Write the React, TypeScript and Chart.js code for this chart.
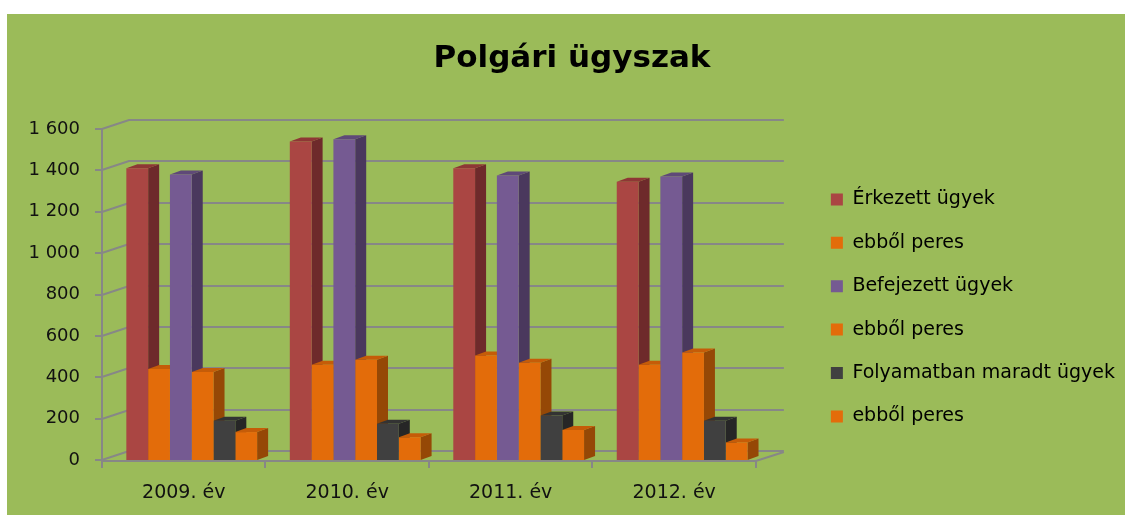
import React, { useEffect, useRef } from "react";
import { Chart, registerables } from "chart.js";

Chart.register(...registerables);

const chartTitle = "Polgári ügyszak";
const categories = ["2009. év", "2010. év", "2011. év", "2012. év"];
const seriesNames = [
  "Érkezett ügyek",
  "ebből peres",
  "Befejezett ügyek",
  "ebből peres",
  "Folyamatban maradt ügyek",
  "ebből peres",
];
const erkezett = [1410, 1540, 1410, 1345];
const erkezettPeres = [440, 460, 505, 460];
const befejezett = [1380, 1550, 1375, 1370];
const befejezettPeres = [425, 485, 470, 520];
const folyamatban = [190, 175, 215, 190];
const folyamatbanPeres = [135, 110, 145, 85];
const yTickValues = [0, 200, 400, 600, 800, 1000, 1200, 1400, 1600];

const frontColors = ["#AA4643", "#E36C0A", "#755A92", "#E36C0A", "#404040", "#E36C0A"];
const sideColors = ["#6E2A2B", "#954806", "#4A385D", "#954806", "#262626", "#954806"];
const capColors = ["#8E3735", "#C55C08", "#5F4978", "#C55C08", "#333333", "#C55C08"];

const DEPTH_X = 11;
const DEPTH_Y = 4;
const WALL_X = 27;
const WALL_Y = 9;
const BAR_SHIFT = 8;
const GRID = "#878787";

const threeD = {
  id: "threeD",
  beforeDraw(chart: any) {
    const { ctx, width, height } = chart;
    ctx.save();
    ctx.fillStyle = "#9BBB59";
    ctx.fillRect(0, 0, width, height);
    ctx.restore();
  },
  beforeDatasetsDraw(chart: any) {
    const { ctx, chartArea, scales } = chart;
    const y = scales.y;
    const x = scales.x;
    const L = chartArea.left;
    const R = chartArea.right;
    const B = chartArea.bottom;
    ctx.save();
    ctx.strokeStyle = GRID;
    ctx.lineWidth = 2;
    ctx.beginPath();
    yTickValues.forEach((v) => {
      const py = Math.round(y.getPixelForValue(v));
      ctx.moveTo(L - 7, py);
      ctx.lineTo(L, py);
      ctx.lineTo(L + WALL_X, py - WALL_Y);
      ctx.lineTo(R + WALL_X + 1, py - WALL_Y);
    });
    ctx.moveTo(L, Math.round(y.getPixelForValue(1600)));
    ctx.lineTo(L, B + 1);
    ctx.moveTo(L, B + 1);
    ctx.lineTo(R, B + 1);
    ctx.lineTo(R + WALL_X + 1, B + 1 - WALL_Y);
    const n = categories.length;
    const step = (x.right - x.left) / n;
    for (let i = 0; i <= n; i++) {
      const px = Math.round(x.left + i * step);
      ctx.moveTo(px, B + 1);
      ctx.lineTo(px, B + 8);
    }
    ctx.stroke();
    ctx.restore();

    ctx.save();
    ctx.translate(BAR_SHIFT, 0);
    // depth faces (sides and tops) of every bar, left to right; the front faces are drawn by Chart.js afterwards
    const nData = categories.length;
    const nSets = chart.data.datasets.length;
    for (let c = 0; c < nData; c++) {
      for (let i = 0; i < nSets; i++) {
        const bar: any = chart.getDatasetMeta(i).data[c];
        if (!bar) continue;
        const { x: bx, y: by, width, base } = bar.getProps(["x", "y", "width", "base"], true);
        const l = bx - width / 2;
        const r = bx + width / 2;
        ctx.fillStyle = sideColors[i];
        ctx.beginPath();
        ctx.moveTo(r, by);
        ctx.lineTo(r + DEPTH_X, by - DEPTH_Y);
        ctx.lineTo(r + DEPTH_X, base - DEPTH_Y);
        ctx.lineTo(r, base);
        ctx.closePath();
        ctx.fill();
        ctx.fillStyle = capColors[i];
        ctx.beginPath();
        ctx.moveTo(l, by);
        ctx.lineTo(l + DEPTH_X, by - DEPTH_Y);
        ctx.lineTo(r + DEPTH_X, by - DEPTH_Y);
        ctx.lineTo(r, by);
        ctx.closePath();
        ctx.fill();
      }
    }
  },
  afterDatasetsDraw(chart: any) {
    chart.ctx.restore();
  },
};

export default function App() {
  const ref = useRef<HTMLCanvasElement | null>(null);
  useEffect(() => {
    if (!ref.current) return;
    const seriesValues = [
      erkezett,
      erkezettPeres,
      befejezett,
      befejezettPeres,
      folyamatban,
      folyamatbanPeres,
    ];
    const chart = new Chart(ref.current, {
      type: "bar",
      data: {
        labels: categories,
        datasets: seriesValues.map((d, i) => ({
          label: seriesNames[i],
          data: d,
          backgroundColor: frontColors[i],
          borderWidth: 0,
          categoryPercentage: 0.8,
          barPercentage: 1.0,
        })),
      },
      options: {
        responsive: false,
        animation: false,
        devicePixelRatio: 1,
        layout: { padding: { left: 12, right: 0, top: 0, bottom: 0 } },
        plugins: {
          tooltip: { enabled: false },
          title: {
            display: true,
            text: chartTitle,
            color: "#000",
            font: { family: "DejaVu Sans", size: 31, weight: "bold", lineHeight: 1.2 },
            padding: { top: 26, bottom: 51.8 },
          },
          legend: {
            position: "right",
            align: "start",
            fullSize: false,
            maxWidth: 420,
            title: { display: true, text: "", font: { size: 10, lineHeight: 1.2 }, padding: { top: 24.5, bottom: 0 } },
            labels: {
              boxWidth: 12,
              boxHeight: 12,
              padding: 24.4,
              color: "#000",
              font: { family: "DejaVu Sans", size: 19 },
            },
          },
        },
        scales: {
          x: {
            grid: { display: false, drawTicks: false },
            border: { display: false },
            ticks: { padding: 22, color: "#111", font: { family: "DejaVu Sans", size: 19 } },
            afterFit: (s: any) => {
              s.height = 55;
            },
          },
          y: {
            min: 0,
            max: 1600,
            grid: { display: false, drawTicks: false },
            border: { display: false },
            ticks: {
              stepSize: 200,
              padding: 22,
              color: "#111",
              font: { family: "DejaVu Sans", size: 18 },
              callback: (v: any) => {
                const n = Number(v);
                return n >= 1000 ? `${Math.floor(n / 1000)} ${String(n % 1000).padStart(3, "0")}` : String(n);
              },
            },
            afterFit: (s: any) => {
              s.width = 83;
            },
          },
          yR: {
            position: "right",
            display: true,
            grid: { display: false, drawTicks: false },
            border: { display: false },
            ticks: { display: false },
            afterFit: (s: any) => {
              s.width = 50.6;
            },
          },
        },
      },
      plugins: [threeD],
    });
    return () => chart.destroy();
  }, []);
  return (
    <div style={{ position: "absolute", left: 7, top: 14, width: 1118, height: 501 }}>
      <canvas ref={ref} width={1118} height={501} />
    </div>
  );
}
